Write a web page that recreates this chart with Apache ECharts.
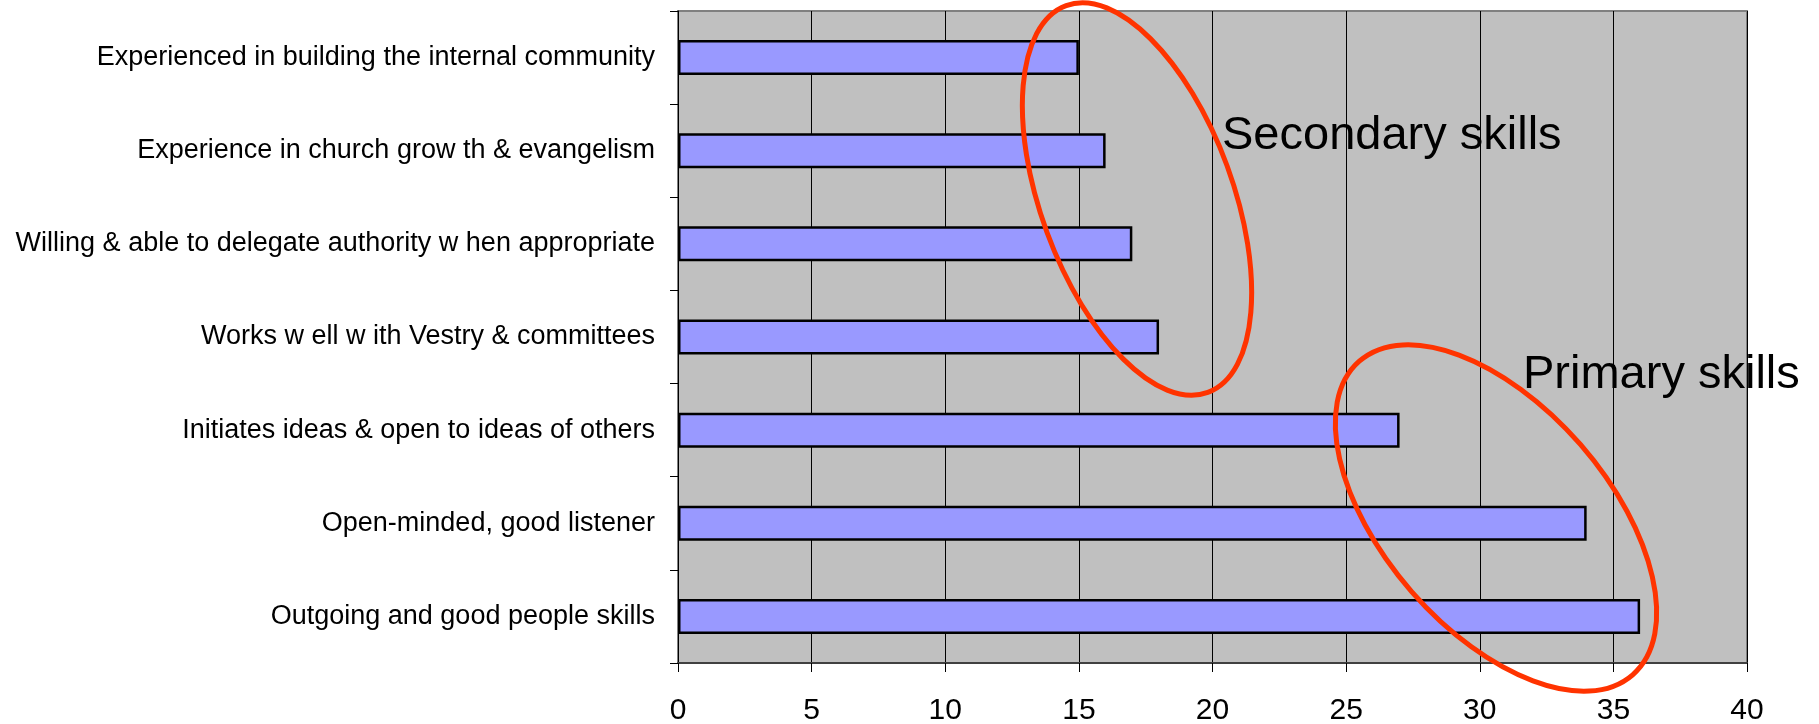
<!DOCTYPE html>
<html>
<head>
<meta charset="utf-8">
<script src="https://cdn.jsdelivr.net/npm/echarts@6/dist/echarts.min.js"></script>
<style>
  html, body { margin: 0; padding: 0; background: #ffffff; }
  #chart { width: 1819px; height: 724px; }
</style>
</head>
<body>
<div id="chart"></div>
<script>
const categories = [
  'Experienced in building the internal community',
  'Experience in church grow th & evangelism',
  'Willing & able to delegate authority w hen appropriate',
  'Works w ell w ith Vestry & committees',
  'Initiates ideas & open to ideas of others',
  'Open-minded, good listener',
  'Outgoing and good people skills'
];
const values = [15, 16, 17, 18, 27, 34, 36];
const xTicks = [0, 5, 10, 15, 20, 25, 30, 35, 40];
const annotationLabels = ['Secondary skills', 'Primary skills'];

const narrow = "'Liberation Sans Narrow', 'Arial Narrow', 'Liberation Sans', Arial, sans-serif";
const regular = "'Liberation Sans', Arial, sans-serif";

const chart = echarts.init(document.getElementById('chart'), null, { renderer: 'canvas' });
chart.setOption({
  animation: false,
  backgroundColor: '#ffffff',
  grid: {
    left: 678, right: 72, top: 11, bottom: 61,
    containLabel: false,
    outerBoundsMode: 'none',
    show: true,
    backgroundColor: '#C0C0C0',
    borderColor: '#808080',
    borderWidth: 2
  },
  xAxis: {
    type: 'value',
    min: xTicks[0],
    max: xTicks[xTicks.length - 1],
    interval: 5,
    axisLine: { show: true, lineStyle: { color: '#404040', width: 2 } },
    axisTick: { show: true, length: 9, lineStyle: { color: '#000000', width: 1 } },
    axisLabel: {
      show: true, margin: 33, color: '#000000',
      fontFamily: narrow, fontSize: 30
    },
    splitLine: { show: true, lineStyle: { color: '#000000', width: 1 } }
  },
  yAxis: {
    type: 'category',
    data: categories,
    inverse: true,
    axisLine: { show: true, lineStyle: { color: '#000000', width: 1 } },
    axisTick: { show: true, length: 8, alignWithLabel: false, lineStyle: { color: '#000000', width: 1 } },
    axisLabel: {
      show: true, margin: 23, color: '#000000',
      fontFamily: narrow, fontSize: 27
    },
    splitLine: { show: false }
  },
  series: [{
    type: 'bar',
    data: values,
    barWidth: 35,
    itemStyle: { color: '#9999FF', borderColor: '#000000', borderWidth: 2.5 },
    z: 3
  }],
  graphic: [
    {
      type: 'ellipse', z: 100,
      x: 1137, y: 199, rotation: 0.351,
      shape: { cx: 0, cy: 0, rx: 96, ry: 206 },
      style: { fill: 'none', stroke: '#FF3300', lineWidth: 5 }
    },
    {
      type: 'ellipse', z: 100,
      x: 1496, y: 518, rotation: 0.717,
      shape: { cx: 0, cy: 0, rx: 112, ry: 208 },
      style: { fill: 'none', stroke: '#FF3300', lineWidth: 5 }
    },
    {
      type: 'text', z: 101,
      x: 1222, y: 136,
      style: {
        text: annotationLabels[0], fill: '#000000',
        fontFamily: regular, fontSize: 47,
        textAlign: 'left', textVerticalAlign: 'middle'
      }
    },
    {
      type: 'text', z: 101,
      x: 1523, y: 375,
      style: {
        text: annotationLabels[1], fill: '#000000',
        fontFamily: regular, fontSize: 47,
        textAlign: 'left', textVerticalAlign: 'middle'
      }
    }
  ]
});
</script>
</body>
</html>
